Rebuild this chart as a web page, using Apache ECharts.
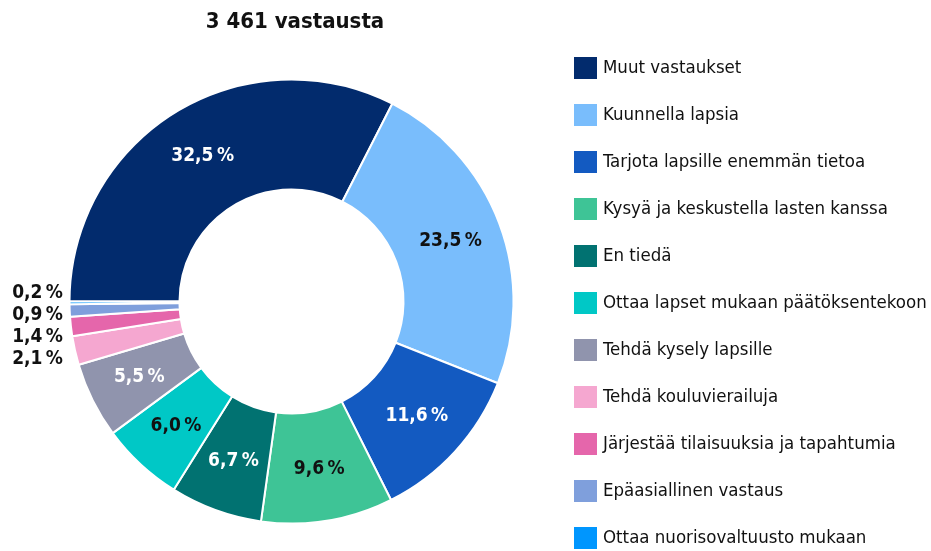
<!DOCTYPE html>
<html>
<head>
<meta charset="utf-8">
<script src="https://cdn.jsdelivr.net/npm/echarts@6/dist/echarts.min.js"></script>
<style>
  html, body { margin: 0; padding: 0; background: #fff; }
  #chart { width: 931px; height: 551px; }
</style>
</head>
<body>
<div id="chart"></div>
<script>
// answers, in drawing order (clockwise from 9 o'clock)
var categories = [
    'Muut vastaukset',
    'Kuunnella lapsia',
    'Tarjota lapsille enemmän tietoa',
    'Kysyä ja keskustella lasten kanssa',
    'En tiedä',
    'Ottaa lapset mukaan päätöksentekoon',
    'Tehdä kysely lapsille',
    'Tehdä kouluvierailuja',
    'Järjestää tilaisuuksia ja tapahtumia',
    'Epäasiallinen vastaus',
    'Ottaa nuorisovaltuusto mukaan'
];
var shares = [32.5, 23.5, 11.6, 9.6, 6.7, 6.0, 5.5, 2.1, 1.4, 0.9, 0.2];
var colors = ['#022b6d', '#79bdfc', '#135ac1', '#3ec496', '#017271', '#00c8c6',
              '#9094ad', '#f5a7d0', '#e566ab', '#7f9fdc', '#0096fe'];
var labelColors = ['#fff', '#111', '#fff', '#111', '#fff', '#111', '#fff'];
var title = '3 461 vastausta';

var FONT = '"DejaVu Sans Condensed", "Liberation Sans Narrow", sans-serif';

var data = shares.map(function (v, i) {
    var item = { name: categories[i], value: v, itemStyle: { color: colors[i] } };
    if (i < labelColors.length) {
        item.label = { position: 'inside', color: labelColors[i] };
    } else {
        item.label = { position: 'outside', color: '#111', overflow: 'none' };
        item.labelLine = { show: false };
    }
    return item;
});

var myChart = echarts.init(document.getElementById('chart'));
myChart.setOption({
    animation: false,
    title: {
        text: title,
        left: 295,
        top: 11,
        padding: 0,
        textAlign: 'center',
        textStyle: { fontFamily: FONT, fontSize: 22, fontWeight: 'bold', color: '#111' }
    },
    legend: {
        orient: 'vertical',
        left: 572,
        top: 55,
        height: 520,
        padding: 0,
        itemWidth: 25,
        itemHeight: 24,
        itemGap: 21,
        icon: 'rect',
        textStyle: { fontFamily: FONT, fontSize: 18.5, lineHeight: 22, color: '#111', padding: [0, 0, 0, 0] },
        data: categories
    },
    series: [{
        type: 'pie',
        center: [291.5, 301.5],
        radius: [112, 222],
        startAngle: 180,
        clockwise: true,
        itemStyle: { borderColor: '#fff', borderWidth: 2 },
        label: {
            fontFamily: FONT,
            fontSize: 19,
            fontWeight: 'bold',
            formatter: function (p) {
                return p.value.toFixed(1).replace('.', ',') + '\u2009%';
            }
        },
        labelLayout: function (p) {
            if (p.dataIndex < labelColors.length) return {};
            return {
                x: 63,
                y: 293 + (shares.length - 1 - p.dataIndex) * 22,
                width: 80,
                align: 'right',
                verticalAlign: 'middle'
            };
        },
        emphasis: { disabled: true },
        data: data
    }]
});
</script>
</body>
</html>
